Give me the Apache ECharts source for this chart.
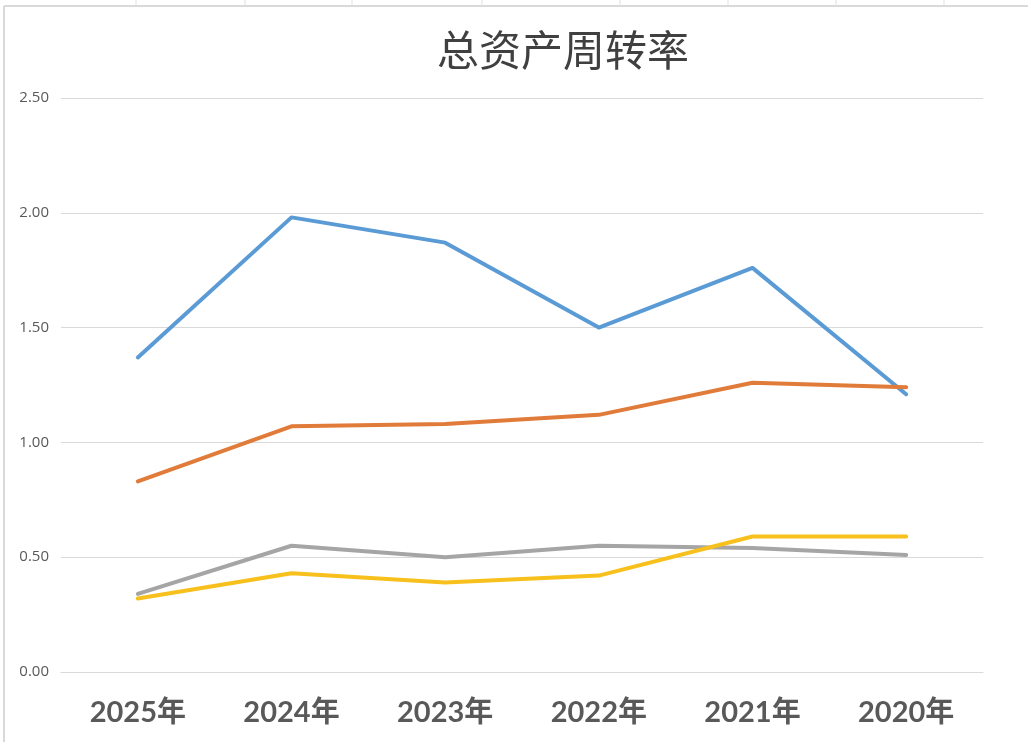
<!DOCTYPE html>
<html>
<head>
<meta charset="utf-8">
<script src="https://cdn.jsdelivr.net/npm/echarts@6/dist/echarts.min.js"></script>
<style>
html,body{margin:0;padding:0;background:#fff;}
#c{width:1028px;height:742px;}
</style>
</head>
<body>
<div id="c"></div>
<script>
const categories = ['2025年','2024年','2023年','2022年','2021年','2020年'];
const seriesA = [1.37, 1.98, 1.87, 1.50, 1.76, 1.21];
const seriesB = [0.83, 1.07, 1.08, 1.12, 1.26, 1.24];
const seriesC = [0.34, 0.55, 0.50, 0.55, 0.54, 0.51];
const seriesD = [0.32, 0.43, 0.39, 0.42, 0.59, 0.59];
const colors = ['#5B9BD5', '#E07B39', '#A5A5A5', '#F7C01C'];

const chart = echarts.init(document.getElementById('c'), null, {renderer: 'canvas'});

const topTicks = [136, 245, 352, 482, 620, 728, 836, 944];
const deco = [
  {type:'line', shape:{x1:4, y1:6, x2:1028, y2:6}, style:{stroke:'#d9d9d9', lineWidth:2}, silent:true},
  {type:'line', shape:{x1:4, y1:6, x2:4, y2:742}, style:{stroke:'#d9d9d9', lineWidth:2}, silent:true}
];
topTicks.forEach(x => deco.push({type:'line', shape:{x1:x, y1:0, x2:x, y2:6}, style:{stroke:'#e0e0e0', lineWidth:1}, silent:true}));

function mk(name, data, color) {
  return {
    name: name, type: 'line', data: data, symbol: 'none',
    lineStyle: {color: color, width: 4, cap: 'round', join: 'round'},
    itemStyle: {color: color}
  };
}

chart.setOption({
  animation: false,
  backgroundColor: '#ffffff',
  title: {
    text: '总资产周转率',
    left: 432, top: 24,
    textStyle: {fontFamily: '"Noto Sans CJK SC", sans-serif', fontWeight: 'normal', fontSize: 42, color: '#404040'}
  },
  graphic: deco,
  grid: {left: 61, right: 45, top: 98, bottom: 70, containLabel: false},
  xAxis: {
    type: 'category', data: categories, boundaryGap: true,
    axisLine: {show: true, lineStyle: {color: '#d9d9d9', width: 1}},
    axisTick: {show: false},
    axisLabel: {margin: 26, fontFamily: 'Lato, "Noto Sans CJK SC", sans-serif', fontWeight: 'bold', fontSize: 29, color: '#595959'}
  },
  yAxis: {
    type: 'value', min: 0, max: 2.5, interval: 0.5,
    axisLine: {show: false}, axisTick: {show: false},
    splitLine: {lineStyle: {color: '#d9d9d9', width: 1}},
    axisLabel: {margin: 12, formatter: v => v.toFixed(2), fontFamily: '"Open Sans", sans-serif', fontSize: 15, color: '#595959'}
  },
  series: [
    mk('A', seriesA, colors[0]),
    mk('B', seriesB, colors[1]),
    mk('C', seriesC, colors[2]),
    mk('D', seriesD, colors[3])
  ]
});
</script>
</body>
</html>
